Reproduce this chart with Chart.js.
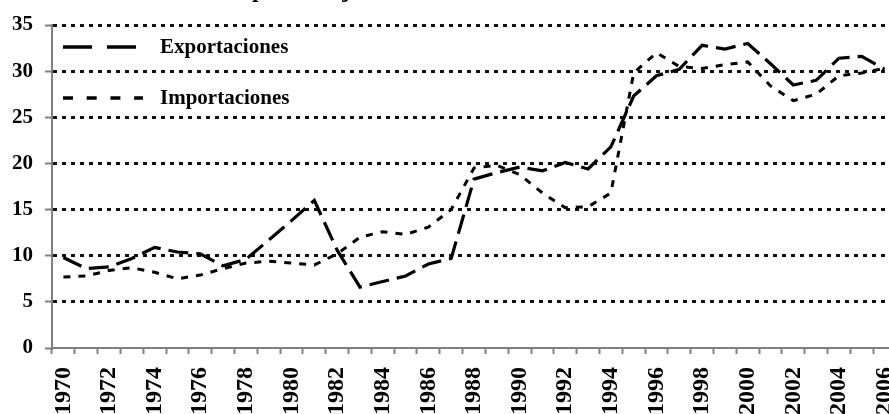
<!DOCTYPE html>
<html>
<head>
<meta charset="utf-8">
<script src="https://cdn.jsdelivr.net/npm/chart.js@4.4.1/dist/chart.umd.min.js"></script>
<style>
  html, body { margin: 0; padding: 0; background: #fff; overflow: hidden; }
  #wrap { width: 889px; height: 414px; overflow: hidden; }
</style>
</head>
<body>
<div id="wrap"><canvas id="myChart" width="896" height="414"></canvas></div>
<script>
const years = ['1970', '1971', '1972', '1973', '1974', '1975', '1976', '1977', '1978', '1979',
  '1980', '1981', '1982', '1983', '1984', '1985', '1986', '1987', '1988', '1989',
  '1990', '1991', '1992', '1993', '1994', '1995', '1996', '1997', '1998', '1999',
  '2000', '2001', '2002', '2003', '2004', '2005', '2006'];

const exportaciones = [9.8, 8.6, 8.8, 9.7, 10.9, 10.4, 10.2, 8.9, 9.6, 11.7,
  13.8, 16.0, 10.6, 6.6, 7.2, 7.8, 9.1, 9.7, 18.3, 19.0,
  19.6, 19.2, 20.1, 19.4, 21.8, 27.3, 29.5, 30.2, 32.8, 32.4,
  33.0, 30.8, 28.5, 29.0, 31.4, 31.6, 30.2];

const importaciones = [7.7, 7.8, 8.4, 8.7, 8.2, 7.5, 7.9, 8.6, 9.2, 9.4,
  9.2, 9.0, 10.2, 12.0, 12.6, 12.3, 13.1, 15.0, 19.5, 19.8,
  18.8, 16.8, 15.2, 15.3, 16.8, 29.8, 32.0, 30.5, 30.3, 30.7,
  31.0, 28.4, 26.8, 27.5, 29.5, 29.8, 30.3];

const yTicks = [0, 5, 10, 15, 20, 25, 30, 35];
const seriesNames = ['Exportaciones', 'Importaciones'];
const tituloGrafico = 'Comercio exterior como porcentaje del PIB';

const serif = "'Liberation Serif', 'Times New Roman', serif";
const axisGray = '#7f7f7f';

// legend sits inside the plot, top left, like the original
const legendDash = [[29, 15], [10, 13.7]];
const legendInside = {
  id: 'legendInside',
  afterDraw(chart) {
    const c = chart.ctx;
    chart.data.datasets.forEach((ds, i) => {
      const y = 47 + i * 51;
      c.save();
      c.strokeStyle = '#000';
      c.lineWidth = 3.5;
      c.setLineDash(legendDash[i]);
      c.beginPath();
      c.moveTo(63, y);
      c.lineTo(143, y);
      c.stroke();
      c.setLineDash([]);
      c.fillStyle = '#000';
      c.font = 'bold 21px ' + serif;
      c.textBaseline = 'middle';
      c.fillText(ds.label, 160, y + 1);
      c.restore();
    });
    // title is cut off by the top edge in the original, only descenders show
    c.save();
    c.font = 'bold 24px ' + serif;
    c.fillStyle = '#000';
    c.textBaseline = 'alphabetic';
    const pre = tituloGrafico.slice(0, tituloGrafico.indexOf('porcentaje'));
    c.fillText(tituloGrafico, 252 - c.measureText(pre).width, -3);
    c.restore();
  }
};

const data = {
  labels: years,
  datasets: [{
    label: seriesNames[0],
    data: exportaciones,
    borderColor: '#000',
    backgroundColor: '#000',
    borderWidth: 3.2,
    borderDash: [20, 8],
    pointRadius: 0,
    tension: 0,
    fill: false
  }, {
    label: seriesNames[1],
    data: importaciones,
    borderColor: '#000',
    backgroundColor: '#000',
    borderWidth: 3,
    borderDash: [7, 8],
    pointRadius: 0,
    tension: 0,
    fill: false
  }]
};

const config = {
  type: 'line',
  data,
  options: {
    responsive: false,
    animation: false,
    layout: { padding: { top: 25, right: 0, left: 0, bottom: 0 } },
    plugins: {
      legend: { display: false },
      tooltip: { enabled: false },
      title: { display: false }
    },
    scales: {
      x: {
        offset: true,
        grid: {
          offset: true,
          drawOnChartArea: false,
          drawTicks: true,
          tickLength: 6,
          tickColor: axisGray,
          tickWidth: 2
        },
        border: { color: axisGray, width: 2 },
        ticks: {
          autoSkip: false,
          maxRotation: 90,
          minRotation: 90,
          padding: 13,
          color: '#000',
          font: { family: serif, size: 24, weight: 'bold' },
          callback: function (v, i) { return i % 2 === 0 ? this.getLabelForValue(v) : ''; }
        },
        afterFit: s => { s.height = 66; s.paddingLeft = 0; s.paddingRight = 0; }
      },
      y: {
        min: 0,
        max: 35,
        afterBuildTicks: s => { s.ticks = yTicks.map(v => ({ value: v })); },
        ticks: {
          padding: 12,
          color: '#000',
          font: { family: serif, size: 21, weight: 'bold' }
        },
        grid: {
          color: ctx => (ctx.tick && ctx.tick.value === 0) ? 'rgba(0,0,0,0)' : '#111',
          lineWidth: 3,
          tickColor: axisGray,
          tickLength: 7,
          tickWidth: 2,
          tickBorderDash: []
        },
        border: { color: axisGray, width: 2, dash: [4, 5] },
        afterFit: s => { s.width = 52; s.paddingTop = 0; s.paddingBottom = 0; }
      }
    }
  },
  plugins: [legendInside]
};

const myChart = new Chart(document.getElementById('myChart'), config);
</script>
</body>
</html>
